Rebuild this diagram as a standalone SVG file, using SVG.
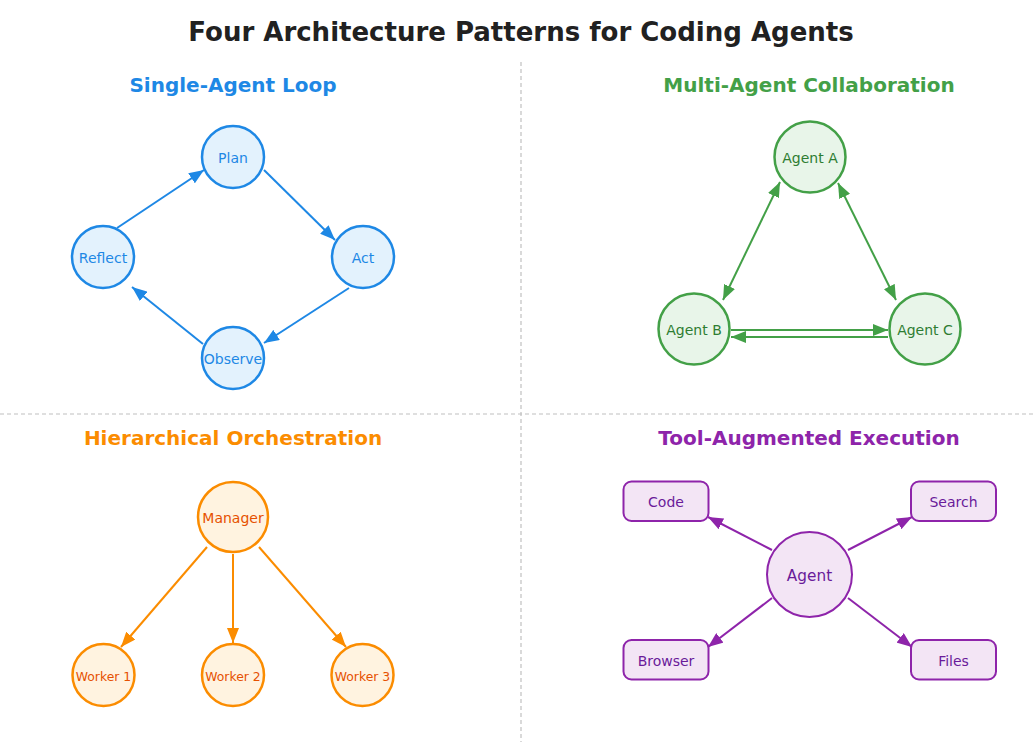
<svg xmlns="http://www.w3.org/2000/svg" width="1034" height="742" viewBox="0 0 1034 742">
<style>
text{font-family:"DejaVu Sans","Liberation Sans",sans-serif;text-anchor:middle}
.title{font-size:26px;font-weight:bold;fill:#212121}
.sub{font-size:20px;font-weight:bold}
.lbl{font-size:14px}
.div{stroke:#c0c0c0;stroke-width:1.2;stroke-dasharray:4,3;fill:none}
.blue circle{fill:#E3F2FD;stroke:#1E88E5;stroke-width:2.5}
.blue text{fill:#1E88E5}
.green circle{fill:#E8F5E9;stroke:#43A047;stroke-width:2.5}
.green text{fill:#2E7D32}
.orange circle{fill:#FFF3E0;stroke:#FB8C00;stroke-width:2.5}
.orange text{fill:#E65100}
.purple circle,.purple rect{fill:#F3E5F5;stroke:#8E24AA;stroke-width:2}
.purple text{fill:#6A1B9A}
.cb{stroke:#1E88E5;stroke-width:2;fill:none}
.cg{stroke:#43A047;stroke-width:2;fill:none}
.co{stroke:#FB8C00;stroke-width:2;fill:none}
.cp{stroke:#8E24AA;stroke-width:2;fill:none}
</style>
<defs>
<marker id="ab" markerUnits="userSpaceOnUse" markerWidth="16" markerHeight="12" viewBox="0 0 16 12" refX="15" refY="6" orient="auto-start-reverse"><path d="M0,0 L15,6 L0,12 z" fill="#1E88E5"/></marker>
<marker id="ag" markerUnits="userSpaceOnUse" markerWidth="16" markerHeight="12" viewBox="0 0 16 12" refX="15" refY="6" orient="auto-start-reverse"><path d="M0,0 L15,6 L0,12 z" fill="#43A047"/></marker>
<marker id="ao" markerUnits="userSpaceOnUse" markerWidth="16" markerHeight="12" viewBox="0 0 16 12" refX="15" refY="6" orient="auto-start-reverse"><path d="M0,0 L15,6 L0,12 z" fill="#FB8C00"/></marker>
<marker id="ap" markerUnits="userSpaceOnUse" markerWidth="16" markerHeight="12" viewBox="0 0 16 12" refX="15" refY="6" orient="auto-start-reverse"><path d="M0,0 L15,6 L0,12 z" fill="#8E24AA"/></marker>
</defs>
<rect width="1034" height="742" fill="#ffffff"/>
<text class="title" x="521" y="41">Four Architecture Patterns for Coding Agents</text>
<g id="dividers">
<line class="div" x1="521" y1="62" x2="521" y2="742"/>
<line class="div" x1="0" y1="414" x2="1034" y2="414"/>
</g>
<text class="sub" x="233" y="92" fill="#1E88E5">Single-Agent Loop</text>
<text class="sub" x="809" y="92" fill="#43A047">Multi-Agent Collaboration</text>
<text class="sub" x="233" y="445" fill="#FB8C00">Hierarchical Orchestration</text>
<text class="sub" x="809" y="445" fill="#8E24AA">Tool-Augmented Execution</text>

<g id="connectors">
<line class="cb" x1="117" y1="228" x2="204" y2="170" marker-end="url(#ab)"/>
<line class="cb" x1="264" y1="170" x2="335" y2="240" marker-end="url(#ab)"/>
<line class="cb" x1="349" y1="288" x2="264" y2="343" marker-end="url(#ab)"/>
<line class="cb" x1="203" y1="344" x2="132" y2="287" marker-end="url(#ab)"/>

<line class="cg" x1="780" y1="182" x2="723" y2="300" marker-start="url(#ag)" marker-end="url(#ag)"/>
<line class="cg" x1="838" y1="183" x2="896" y2="300" marker-start="url(#ag)" marker-end="url(#ag)"/>
<line class="cg" x1="731" y1="330" x2="888" y2="330" marker-end="url(#ag)"/>
<line class="cg" x1="888" y1="337" x2="731" y2="337" marker-end="url(#ag)"/>

<line class="co" x1="207" y1="547" x2="121" y2="647" marker-end="url(#ao)"/>
<line class="co" x1="233" y1="554" x2="233" y2="643" marker-end="url(#ao)"/>
<line class="co" x1="259" y1="547" x2="346" y2="647" marker-end="url(#ao)"/>

<line class="cp" x1="772" y1="550" x2="708" y2="517" marker-end="url(#ap)"/>
<line class="cp" x1="848" y1="550" x2="912" y2="517" marker-end="url(#ap)"/>
<line class="cp" x1="772" y1="598" x2="708" y2="647" marker-end="url(#ap)"/>
<line class="cp" x1="848" y1="598" x2="912" y2="647" marker-end="url(#ap)"/>
</g>

<g id="plan" class="blue"><circle cx="233" cy="157" r="31"/><text class="lbl" x="233" y="163">Plan</text></g>
<g id="act" class="blue"><circle cx="363" cy="257" r="31"/><text class="lbl" x="363" y="263">Act</text></g>
<g id="reflect" class="blue"><circle cx="103" cy="257" r="31"/><text class="lbl" x="103" y="263">Reflect</text></g>
<g id="observe" class="blue"><circle cx="233" cy="358" r="31"/><text class="lbl" x="233" y="364">Observe</text></g>

<g id="agent-a" class="green"><circle cx="810" cy="157" r="35.5"/><text class="lbl" x="810" y="163">Agent A</text></g>
<g id="agent-b" class="green"><circle cx="694" cy="329" r="35.5"/><text class="lbl" x="694" y="335">Agent B</text></g>
<g id="agent-c" class="green"><circle cx="925" cy="329" r="35.5"/><text class="lbl" x="925" y="335">Agent C</text></g>

<g id="manager" class="orange"><circle cx="233" cy="517" r="35"/><text class="lbl" x="233" y="523">Manager</text></g>
<g id="worker1" class="orange"><circle cx="103.5" cy="675" r="31"/><text x="103.5" y="681" font-size="12.4">Worker 1</text></g>
<g id="worker2" class="orange"><circle cx="233" cy="675" r="31"/><text x="233" y="681" font-size="12.4">Worker 2</text></g>
<g id="worker3" class="orange"><circle cx="362.5" cy="675" r="31"/><text x="362.5" y="681" font-size="12.4">Worker 3</text></g>

<g id="agent" class="purple"><circle cx="809.5" cy="574.5" r="42.5"/><text x="809.5" y="580.5" font-size="15.3">Agent</text></g>
<g id="code" class="purple"><rect x="623.5" y="481.5" width="85" height="39.5" rx="8"/><text class="lbl" x="666" y="507">Code</text></g>
<g id="search" class="purple"><rect x="911" y="481.5" width="85" height="39.5" rx="8"/><text class="lbl" x="953.5" y="507">Search</text></g>
<g id="browser" class="purple"><rect x="623.5" y="640" width="85" height="39.5" rx="8"/><text class="lbl" x="666" y="666">Browser</text></g>
<g id="files" class="purple"><rect x="911" y="640" width="85" height="39.5" rx="8"/><text class="lbl" x="953.5" y="666">Files</text></g>
</svg>
